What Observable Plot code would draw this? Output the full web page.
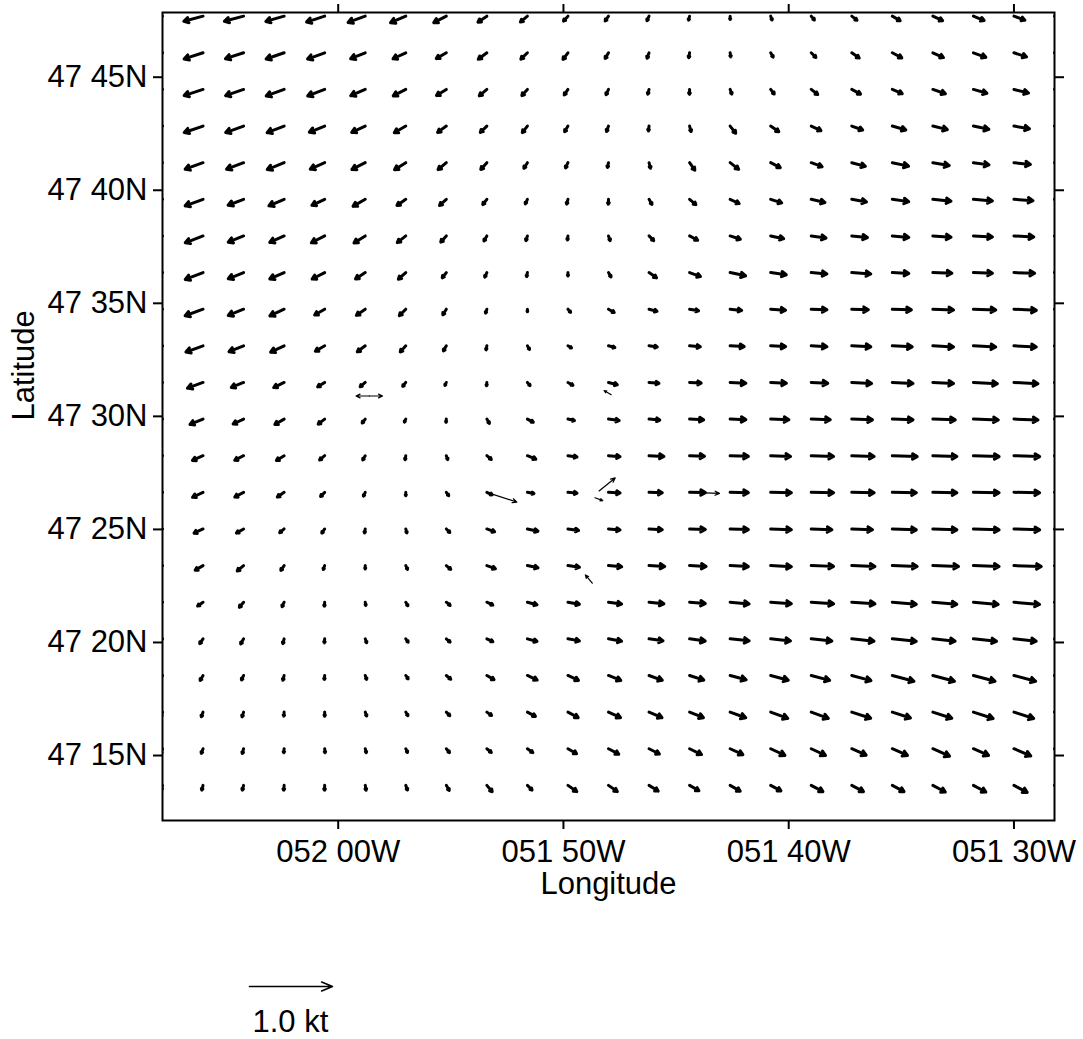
<!DOCTYPE html>
<html>
<head>
<meta charset="utf-8">
<script src="https://cdn.jsdelivr.net/npm/d3@7"></script>
<script src="https://cdn.jsdelivr.net/npm/@observablehq/plot@0.6"></script>
<style>
  body { margin: 0; background: #fff; font-family: "Liberation Sans", Arial, Helvetica, sans-serif; }
  #chart svg, #legend svg { display: block; }
</style>
</head>
<body>
<div id="chart"></div>
<div id="legend"></div>
<script>
// Model grid: tail positions of the current vectors
const lonGrid = [-52.13, -52.10, -52.07, -52.04, -52.01, -51.98, -51.95, -51.92, -51.89, -51.86, -51.83, -51.80,
                 -51.77, -51.74, -51.71, -51.68, -51.65, -51.62, -51.59, -51.56, -51.53, -51.50, -51.47];
const latGrid = [47.795, 47.768, 47.741, 47.714, 47.687, 47.660, 47.633, 47.606, 47.579, 47.552, 47.525,
                 47.498, 47.471, 47.444, 47.417, 47.390, 47.363, 47.336, 47.309, 47.282, 47.255, 47.228];

// Current speed (kt), one row per latitude (north to south), one column per longitude (west to east)
const speedKt = [
  [.24,.24,.24,.23,.23,.22,.20,.17,.13,.11,.08,.07,.06,.05,.04,.05,.06,.08,.11,.13,.14,.14,.14],
  [.24,.24,.23,.23,.22,.19,.17,.14,.13,.11,.10,.08,.07,.06,.05,.06,.08,.11,.13,.14,.16,.16,.16],
  [.24,.24,.23,.23,.22,.19,.17,.14,.12,.10,.08,.07,.06,.06,.06,.07,.10,.12,.13,.16,.17,.18,.18],
  [.24,.24,.23,.22,.20,.18,.16,.13,.11,.10,.08,.07,.06,.07,.11,.12,.13,.14,.17,.18,.19,.19,.19],
  [.24,.23,.22,.22,.19,.18,.16,.13,.11,.08,.07,.06,.07,.11,.13,.13,.14,.17,.20,.20,.19,.20,.20],
  [.23,.23,.20,.20,.17,.17,.13,.11,.08,.06,.06,.06,.07,.10,.12,.14,.17,.18,.20,.22,.23,.23,.23],
  [.23,.23,.20,.19,.18,.16,.13,.10,.07,.06,.05,.06,.08,.11,.13,.16,.18,.19,.20,.22,.23,.24,.24],
  [.23,.23,.20,.19,.17,.14,.12,.08,.06,.05,.04,.06,.11,.14,.19,.19,.19,.23,.20,.23,.23,.25,.25],
  [.23,.23,.20,.19,.14,.13,.11,.08,.05,.03,.05,.08,.10,.11,.14,.18,.19,.20,.23,.25,.27,.27,.27],
  [.22,.22,.19,.18,.13,.12,.10,.07,.05,.05,.05,.08,.10,.13,.17,.18,.19,.23,.24,.25,.27,.27,.27],
  [.20,.20,.16,.14,.10,.08,.06,.04,.04,.05,.07,.11,.12,.14,.19,.19,.20,.24,.25,.25,.29,.29,.29],
  [.18,.17,.14,.13,.10,.06,.04,.04,.06,.08,.08,.13,.13,.17,.19,.22,.23,.25,.25,.27,.30,.29,.29],
  [.16,.14,.12,.11,.08,.06,.05,.05,.07,.11,.11,.14,.18,.18,.22,.24,.27,.27,.30,.29,.31,.31,.31],
  [.16,.14,.12,.10,.07,.05,.04,.05,.07,.08,.11,.14,.16,.19,.22,.25,.27,.27,.29,.29,.31,.31,.31],
  [.13,.12,.10,.07,.06,.05,.05,.06,.10,.13,.13,.14,.16,.19,.22,.25,.25,.25,.29,.29,.31,.31,.31],
  [.12,.11,.10,.07,.05,.04,.05,.07,.11,.13,.14,.16,.19,.20,.22,.25,.27,.28,.30,.31,.31,.33,.33],
  [.10,.08,.08,.06,.05,.04,.05,.06,.08,.12,.14,.16,.18,.19,.23,.25,.27,.28,.29,.29,.30,.31,.31],
  [.08,.07,.07,.06,.05,.05,.05,.06,.08,.12,.14,.16,.17,.19,.23,.24,.25,.27,.29,.27,.28,.27,.27],
  [.07,.07,.06,.06,.05,.05,.05,.07,.10,.13,.14,.16,.17,.18,.20,.22,.23,.24,.27,.27,.27,.27,.27],
  [.06,.06,.06,.05,.05,.05,.05,.06,.07,.11,.14,.16,.17,.18,.20,.22,.22,.24,.23,.24,.25,.25,.25],
  [.06,.06,.06,.05,.05,.05,.05,.06,.07,.08,.12,.14,.14,.16,.17,.19,.19,.19,.20,.22,.20,.22,.22],
  [.06,.06,.06,.06,.06,.06,.06,.07,.10,.08,.13,.13,.13,.13,.14,.14,.16,.16,.16,.17,.17,.18,.18]
];

// Direction the current flows toward (degrees clockwise from north), same layout as speedKt
const headingDeg = [
  [255,255,255,254,252,250,247,243,236,230,222,215,205,195,180,160,140,128,120,115,112,110,110],
  [252,252,252,251,250,248,245,240,233,226,217,210,200,190,172,150,135,125,118,114,110,108,108],
  [252,252,251,250,249,247,243,238,230,222,214,205,195,182,160,142,128,118,113,109,106,104,104],
  [251,251,250,249,248,245,240,234,226,218,210,200,188,165,142,125,115,110,106,104,102,100,100],
  [250,250,249,248,246,243,238,230,222,212,205,192,165,145,128,117,110,105,102,100, 98, 96, 96],
  [250,250,249,247,245,240,235,228,218,205,195,182,150,130,115,108,103,100, 98, 96, 95, 94, 94],
  [250,249,248,246,243,238,232,222,210,198,188,160,135,118,108,102, 98, 96, 95, 94, 93, 93, 93],
  [250,249,248,246,243,237,228,218,205,192,180,150,125,110,102, 98, 95, 94, 93, 92, 92, 92, 92],
  [250,250,248,245,240,235,225,212,198,180,140,120,105,100, 96, 94, 92, 92, 92, 92, 92, 93, 93],
  [250,250,248,245,240,233,222,210,192,150,120,105, 98, 95, 93, 93, 93, 93, 93, 93, 93, 93, 93],
  [250,250,248,244,238,230,218,205,185,140,120,105, 95, 93, 93, 93, 93, 93, 93, 93, 93, 93, 93],
  [248,248,245,240,232,218,205,185,150,118,103, 98, 95, 93, 92, 92, 92, 92, 92, 92, 92, 92, 92],
  [246,246,243,238,230,210,190,160,130,112, 98, 95, 93, 92, 92, 92, 92, 92, 92, 92, 92, 92, 92],
  [246,245,242,235,225,205,180,145,115,100, 95, 93, 92, 91, 91, 91, 91, 91, 91, 91, 91, 91, 91],
  [245,245,240,230,215,190,165,135,110,102, 98, 95, 93, 92, 92, 92, 92, 92, 92, 92, 92, 92, 92],
  [242,240,230,215,200,180,155,130,110,102, 98, 95, 93, 93, 93, 93, 92, 92, 92, 92, 92, 92, 92],
  [235,235,220,205,185,170,150,130,115,105,100, 98, 96, 95, 95, 94, 94, 94, 95, 95, 95, 95, 95],
  [215,215,210,195,185,160,145,130,115,105,100,100, 98, 98, 96, 96, 96, 96, 96, 96, 96, 96, 96],
  [210,210,205,195,185,160,145,130,120,115,115,112,110,108,105,105,105,105,105,105,105,105,105],
  [200,200,198,185,180,160,150,135,125,118,118,115,113,112,110,110,110,108,108,108,108,108,108],
  [200,200,195,185,175,165,155,140,130,125,120,118,117,116,115,115,115,114,114,114,114,113,113],
  [195,195,195,185,182,170,160,150,140,135,125,125,122,120,120,118,118,118,118,118,118,118,118]
];

// Observed current vectors (thin arrows)
const obsLon     = [-51.977, -51.977, -51.89, -51.807, -51.810, -51.74, -51.798, -51.812];
const obsLat     = [47.515, 47.515, 47.444, 47.445, 47.440, 47.444, 47.516, 47.377];
const obsSpeed   = [0.16, 0.16, 0.38, 0.25, 0.10, 0.36, 0.10, 0.13];
const obsHeading = [270, 90, 108, 51, 110, 92, 300, 320];

// Axis ticks and their labels
const lonTicks = [-52, -51 - 50 / 60, -51 - 40 / 60, -51.5];
const lonTickLabels = ["052 00W", "051 50W", "051 40W", "051 30W"];
const latTicks = [47 + 15 / 60, 47 + 20 / 60, 47 + 25 / 60, 47.5, 47 + 35 / 60, 47 + 40 / 60, 47.75];
const latTickLabels = ["47 15N", "47 20N", "47 25N", "47 30N", "47 35N", "47 40N", "47 45N"];

// Reference vector
const scaleKt = 1.0;

// Layout
const W = 1083, H = 915;
const mL = 162, mR = 29, mT = 12, mB = 95;
const lonDomain = [-52.13, -51.47];
const latDomain = [47.2021, 47.7977];
const ktPx = 83; // screen length of one knot
const degLonPerKt = ktPx * (lonDomain[1] - lonDomain[0]) / (W - mL - mR);
const degLatPerKt = ktPx * (latDomain[1] - latDomain[0]) / (H - mT - mB);
const rad = Math.PI / 180;
const font = "'Liberation Sans', Arial, Helvetica, sans-serif";

const grid = [];
latGrid.forEach((lat, j) => lonGrid.forEach((lon, i) => {
  grid.push({lon, lat, speed: speedKt[j][i], heading: headingDeg[j][i]});
}));
const obs = obsLon.map((lon, i) => ({lon, lat: obsLat[i], speed: obsSpeed[i], heading: obsHeading[i]}));

const tipX = d => d.lon + d.speed * Math.sin(d.heading * rad) * degLonPerKt;
const tipY = d => d.lat + d.speed * Math.cos(d.heading * rad) * degLatPerKt;

const lonLabel = new Map(lonTicks.map((t, i) => [t, lonTickLabels[i]]));
const latLabel = new Map(latTicks.map((t, i) => [t, latTickLabels[i]]));

const chart = Plot.plot({
  width: W, height: H,
  marginLeft: mL, marginRight: mR, marginTop: mT, marginBottom: mB,
  style: {fontFamily: font, fontSize: "31px", color: "#000", background: "#fff"},
  x: {domain: lonDomain},
  y: {domain: latDomain},
  marks: [
    Plot.arrow(grid, {
      x1: "lon", y1: "lat", x2: tipX, y2: tipY,
      stroke: "#000", strokeWidth: 3, strokeLinecap: "round",
      headLength: 2.7, headAngle: 60, clip: true
    }),
    Plot.arrow(obs, {
      x1: "lon", y1: "lat", x2: tipX, y2: tipY,
      stroke: "#000", strokeWidth: 1.2, headLength: 6, headAngle: 50, clip: true
    }),
    Plot.frame({stroke: "#000", strokeWidth: 2}),
    Plot.axisX({anchor: "bottom", ticks: lonTicks, tickFormat: d => lonLabel.get(d),
      tickSize: 9, tickPadding: 10, strokeWidth: 2, fontSize: 31, label: null}),
    Plot.axisX({anchor: "top", ticks: lonTicks, tickFormat: () => "",
      tickSize: 9, strokeWidth: 2, label: null}),
    Plot.axisY({anchor: "left", ticks: latTicks, tickFormat: d => latLabel.get(d),
      tickSize: 9, tickPadding: 6, strokeWidth: 2, fontSize: 31, label: null}),
    Plot.axisY({anchor: "right", ticks: latTicks, tickFormat: () => "",
      tickSize: 9, strokeWidth: 2, label: null}),
    Plot.text(["Longitude"], {text: d => d, frameAnchor: "bottom", dy: 73, fontSize: 31, fill: "#000"}),
    Plot.text(["Latitude"], {text: d => d, frameAnchor: "left", rotate: -90, dx: -138, dy: 4, fontSize: 31, fill: "#000"})
  ]
});
document.getElementById("chart").append(chart);

// Scale vector below the map
const legend = Plot.plot({
  width: W, height: 1039 - H,
  margin: 0,
  style: {fontFamily: font, fontSize: "31px", color: "#000", background: "#fff"},
  x: {domain: [0, scaleKt], range: [249, 249 + ktPx * scaleKt], axis: null},
  y: {domain: [0, 1], range: [71, 107], axis: null},
  marks: [
    Plot.arrow([scaleKt], {x1: 0, y1: 0, x2: d => d, y2: 0, stroke: "#000", strokeWidth: 1.6, headLength: 11, headAngle: 45}),
    Plot.text([scaleKt], {x: 0, y: 1, text: d => `${d.toFixed(1)} kt`, textAnchor: "start", dx: 3, fontSize: 31, fill: "#000"})
  ]
});
document.getElementById("legend").append(legend);
</script>
</body>
</html>
